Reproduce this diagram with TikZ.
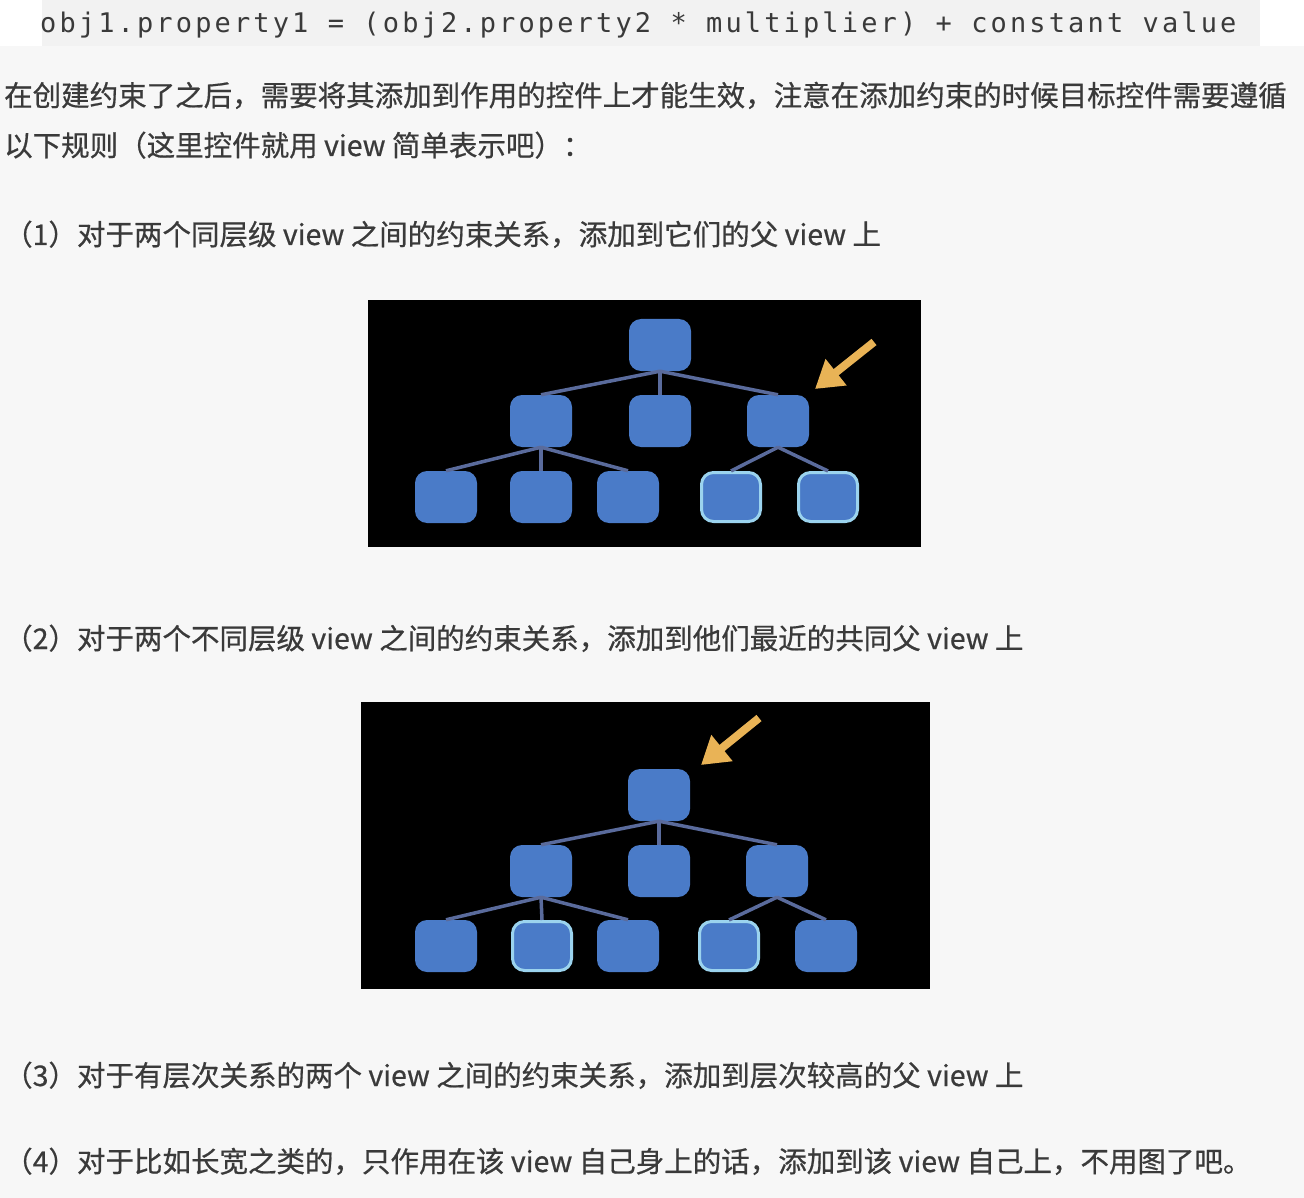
\documentclass[tikz,border=0pt]{standalone}
\usepackage{fontspec}
\usetikzlibrary{arrows.meta}
\newfontfamily\cjk[FakeBold=0.6]{Noto Sans CJK SC}
\newfontfamily\codefont[LetterSpace=11.6]{DejaVu Sans Mono}
\definecolor{pagebg}{HTML}{F7F7F7}
\definecolor{bandbg}{HTML}{F2F2F2}
\definecolor{txt}{HTML}{3A3A3A}
\definecolor{nodeblue}{HTML}{4A7BC8}
\definecolor{edgecol}{HTML}{5A6B9C}
\definecolor{hlcol}{HTML}{9BD3EE}
\definecolor{arrowcol}{HTML}{E9B356}
\tikzset{
  para/.style={anchor=base west, inner sep=0pt, text=txt, font=\cjk\fontsize{28.5}{34}\selectfont},
  codeline/.style={anchor=base west, inner sep=0pt, text=txt, font=\codefont\fontsize{27}{32}\selectfont},
  vbox/.style={rectangle, rounded corners=12pt, fill=nodeblue, minimum width=62pt, minimum height=52pt, inner sep=0pt},
  hlbox/.style={vbox, draw=hlcol, line width=3pt, minimum width=59pt, minimum height=49pt},
  tedge/.style={draw=edgecol, line width=3.5pt},
  pointer/.style={draw=arrowcol, line width=8pt, -{Triangle[length=27pt,width=32pt]}},
  panel/.style={fill=black}
}
\begin{document}
\begin{tikzpicture}[x=1pt,y=-1pt]
\useasboundingbox (0,0) rectangle (1304,1198);
\fill[pagebg] (0,0) rectangle (1304,1198);
\fill[white] (0,0) rectangle (42,46);
\fill[white] (1260,0) rectangle (1304,46);
\fill[bandbg] (42,0) rectangle (1260,46);
\node[codeline] (code) at (40,33) {obj1.property1 = (obj2.property2 * multiplier) + constant value};

\node[para] (p1) at (4,106) {在创建约束了之后，需要将其添加到作用的控件上才能生效，注意在添加约束的时候目标控件需要遵循};
\node[para] (p2) at (4,156) {以下规则（这里控件就用 view 简单表示吧）：};
\node[para] (r1) at (4,245) {（1）对于两个同层级 view 之间的约束关系，添加到它们的父 view 上};
\node[para] (r2) at (4,649) {（2）对于两个不同层级 view 之间的约束关系，添加到他们最近的共同父 view 上};
\node[para] (r3) at (4,1086) {（3）对于有层次关系的两个 view 之间的约束关系，添加到层次较高的父 view 上};
\node[para] (r4) at (4,1172) {（4）对于比如长宽之类的，只作用在该 view 自己身上的话，添加到该 view 自己上，不用图了吧。};

% panel 1
\fill[panel] (368,300) rectangle (921,547);
\node[vbox] (a0) at (660,345) {};
\node[vbox] (a1) at (541,421) {};
\node[vbox] (a2) at (660,421) {};
\node[vbox] (a3) at (778,421) {};
\node[vbox] (a4) at (446,497) {};
\node[vbox] (a5) at (541,497) {};
\node[vbox] (a6) at (628,497) {};
\node[hlbox] (a7) at (731,497) {};
\node[hlbox] (a8) at (828,497) {};
\draw[tedge] (a0.south) -- (a1.north);
\draw[tedge] (a0.south) -- (a2.north);
\draw[tedge] (a0.south) -- (a3.north);
\draw[tedge] (a1.south) -- (a4.north);
\draw[tedge] (a1.south) -- (a5.north);
\draw[tedge] (a1.south) -- (a6.north);
\draw[tedge] (a3.south) -- (a7.north);
\draw[tedge] (a3.south) -- (a8.north);
\coordinate (at1) at (874,342);
\coordinate (ah1) at (815,389);
\draw[pointer] (at1) -- (ah1);

% panel 2
\fill[panel] (361,702) rectangle (930,989);
\node[vbox] (b0) at (659,795) {};
\node[vbox] (b1) at (541,871) {};
\node[vbox] (b2) at (659,871) {};
\node[vbox] (b3) at (777,871) {};
\node[vbox] (b4) at (446,946) {};
\node[hlbox] (b5) at (542,946) {};
\node[vbox] (b6) at (628,946) {};
\node[hlbox] (b7) at (729,946) {};
\node[vbox] (b8) at (826,946) {};
\draw[tedge] (b0.south) -- (b1.north);
\draw[tedge] (b0.south) -- (b2.north);
\draw[tedge] (b0.south) -- (b3.north);
\draw[tedge] (b1.south) -- (b4.north);
\draw[tedge] (b1.south) -- (b5.north);
\draw[tedge] (b1.south) -- (b6.north);
\draw[tedge] (b3.south) -- (b7.north);
\draw[tedge] (b3.south) -- (b8.north);
\coordinate (bt1) at (759,718);
\coordinate (bh1) at (701,765);
\draw[pointer] (bt1) -- (bh1);
\end{tikzpicture}
\end{document}
